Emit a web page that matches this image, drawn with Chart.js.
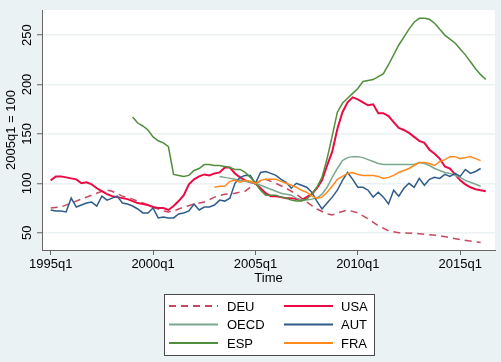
<!DOCTYPE html>
<html><head><meta charset="utf-8">
<script src="https://cdn.jsdelivr.net/npm/chart.js@4.4.0/dist/chart.umd.min.js"></script>
<style>html,body{margin:0;padding:0;background:#eaf2f3;}</style>
</head><body>
<canvas id="c" width="501" height="362"></canvas>
<script>
// quarter index: 0 = 1995q1
const xTickQ = [0, 20, 40, 60, 80];
const xTickLabels = ['1995q1', '2000q1', '2005q1', '2010q1', '2015q1'];
const yTicks = [50, 100, 150, 200, 250];

const deuQ = [0,2,4,6,8,10,11,12,14,16,18,20,22,23,24,26,28,30,32,34,36,38,40,42,44,46,48,50,52,54,55,56,58,60,62,64,66,68,72,76,80,84];
const deuV = [75,76,80,84,88,92,93,92,87,84,80,76,72,71,72,76,79,81,86,89,90,92,100,104,100,95,89,81,74,69,68,70,73,70,64,57,52,50,49,47,43,40];

const usaStart = 0;
const usaV = [103,107,107,106,105,104,100,101,99,95,92,89,87,86,85,84,82,80,79,78,76,75,75,73,77,82,88,99,104,107,109,108,110,111,116,116,110,106,103,101,100,95,90,87,87,86,85,85,84,83,86,89,95,103,118,132,155,172,182,187,185,182,179,180,171,171,168,162,156,154,151,147,143,141,134,130,125,117,115,109,103,99,96,94,93,92];

const oecdStart = 33;
const oecdV = [107,106,105,104,103,102,101,100,98,96,94,92,90,89,88,85,83,83,84,85,89,96,106,115,123,126,127,127,126,124,122,120,119,119,119,119,119,119,119,121,120,118,115,113,111,110,108,106,103,101,99,97];

const autStart = 0;
const autV = [73,72,72,71,85,76,78,80,81,77,87,83,85,87,80,79,77,74,70,70,75,65,66,65,65,69,70,72,79,73,76,76,78,83,82,85,100,106,108,108,100,111,112,110,108,104,101,95,100,98,96,91,82,74,80,86,93,103,111,104,96,96,93,86,91,86,79,93,87,95,100,96,105,98,104,106,105,109,107,110,107,114,110,112,115];

const espStart = 16;
const espV = [167,161,158,154,147,143,141,137,109,108,107,108,113,115,119,119,118,118,117,116,114,114,111,106,100,93,88,88,88,86,85,83,82,82,84,89,96,106,125,148,172,181,186,191,196,203,204,205,208,211,220,230,240,248,256,263,267,267,266,262,256,250,246,242,236,230,223,216,210,205];

const fraStart = 32;
const fraV = [96,97,97,102,103,101,103,102,100,103,104,104,104,102,100,98,96,93,91,87,85,86,91,97,104,107,110,111,109,108,108,108,107,105,106,108,111,113,115,118,121,121,120,118,122,124,127,127,125,126,127,125,123];

const legendOrder = ['DEU', 'USA', 'OECD', 'AUT', 'ESP', 'FRA'];

function fromStart(start, vals) { return vals.map((v, k) => ({x: start + k, y: v})); }
function fromPairs(qs, vals) { return qs.map((q, k) => ({x: q, y: vals[k]})); }

const FONT = {family: '"Liberation Sans", Arial, sans-serif', size: 13};

const series = [
  {label: 'DEU', data: fromPairs(deuQ, deuV), color: '#c9485f', width: 1.5, dash: [7, 5]},
  {label: 'USA', data: fromStart(usaStart, usaV), color: '#ec0a44', width: 2, dash: []},
  {label: 'OECD', data: fromStart(oecdStart, oecdV), color: '#7aa88f', width: 1.5, dash: []},
  {label: 'AUT', data: fromStart(autStart, autV), color: '#2e5b8c', width: 1.5, dash: []},
  {label: 'ESP', data: fromStart(espStart, espV), color: '#4f8f3c', width: 1.5, dash: []},
  {label: 'FRA', data: fromStart(fraStart, fraV), color: '#ff8a1c', width: 1.5, dash: []}
];

const datasets = series.map((s, k) => ({
  label: s.label, data: s.data, borderColor: s.color, backgroundColor: s.color,
  borderWidth: s.width, borderDash: s.dash, pointRadius: 0, tension: 0, fill: false,
  order: series.length - k
}));

const bgPlugin = {
  id: 'bg',
  beforeDraw(chart) {
    const {ctx, chartArea: a} = chart;
    ctx.save();
    ctx.fillStyle = '#eaf2f3';
    ctx.fillRect(0, 0, chart.width, chart.height);
    ctx.fillStyle = '#ffffff';
    ctx.fillRect(a.left, a.top, a.right - a.left, a.bottom - a.top);
    ctx.restore();
  }
};

const boxLegend = {
  id: 'boxLegend',
  afterDraw(chart) {
    const {ctx, chartArea: a} = chart;
    const cx = (a.left + a.right) / 2;
    const w = 210, h = 61, x0 = Math.round(cx - w / 2), y0 = 294;
    ctx.save();
    ctx.fillStyle = '#ffffff';
    ctx.fillRect(x0, y0, w, h);
    ctx.strokeStyle = '#4a4a4a';
    ctx.lineWidth = 1;
    ctx.strokeRect(x0 + 0.5, y0 + 0.5, w, h);
    const rows = [306, 324.5, 343];
    const cols = [{l1: x0 + 5, l2: x0 + 54, tx: x0 + 63}, {l1: x0 + 120, l2: x0 + 169, tx: x0 + 177}];
    ctx.font = '13px "Liberation Sans", Arial, sans-serif';
    ctx.textBaseline = 'middle';
    ctx.textAlign = 'left';
    legendOrder.forEach((name, k) => {
      const ds = chart.data.datasets.find(d => d.label === name);
      const r = Math.floor(k / 2), c = cols[k % 2];
      ctx.strokeStyle = ds.borderColor;
      ctx.lineWidth = 2;
      ctx.setLineDash(ds.borderDash || []);
      ctx.beginPath();
      ctx.moveTo(c.l1, rows[r]);
      ctx.lineTo(c.l2, rows[r]);
      ctx.stroke();
      ctx.setLineDash([]);
      ctx.fillStyle = '#000';
      ctx.fillText(name, c.tx, rows[r] + 1);
    });
    ctx.restore();
  }
};

new Chart(document.getElementById('c'), {
  type: 'line',
  data: {datasets},
  plugins: [bgPlugin, boxLegend],
  options: {
    responsive: false,
    animation: false,
    layout: {padding: {left: 0, top: 10, right: 6, bottom: 72}},
    plugins: {legend: {display: false}, tooltip: {enabled: false}},
    scales: {
      x: {
        type: 'linear', min: -1.7, max: 86.8,
        afterBuildTicks: s => { s.ticks = xTickQ.map(v => ({value: v})); },
        afterFit: s => { s.height = 40; },
        ticks: {callback: (v, i) => xTickLabels[i], font: FONT, color: '#000', padding: 2, maxRotation: 0, autoSkip: false},
        grid: {drawOnChartArea: false, tickLength: 5, tickColor: '#666', tickWidth: 1},
        border: {color: '#666', width: 1},
        title: {display: true, text: 'Time', font: FONT, color: '#000', padding: {top: 0, bottom: 4}}
      },
      y: {
        type: 'linear', min: 32.5, max: 275.4,
        afterBuildTicks: s => { s.ticks = yTicks.map(v => ({value: v})); },
        afterFit: s => { s.width = 42; },
        ticks: {font: FONT, color: '#000', minRotation: 90, maxRotation: 90, crossAlign: 'center', padding: -1},
        grid: {color: '#eaf2f3', lineWidth: 1.5, tickLength: 5, tickColor: '#666', tickWidth: 1},
        border: {color: '#666', width: 1},
        title: {display: true, text: '2005q1 = 100', font: FONT, color: '#000', padding: {top: 4, bottom: 0}}
      }
    }
  }
});
</script>
</body></html>
